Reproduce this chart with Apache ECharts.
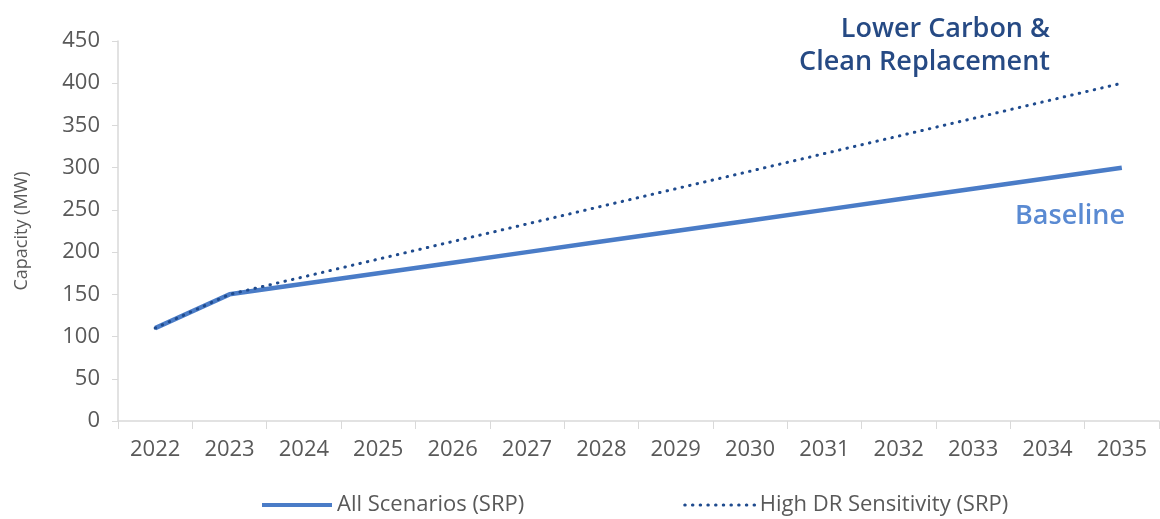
<!DOCTYPE html>
<html><head><meta charset="utf-8">
<script src="https://cdn.jsdelivr.net/npm/echarts@6/dist/echarts.min.js"></script>
<style>html,body{margin:0;padding:0;background:#fff}#c{width:1160px;height:519px}</style>
</head><body><div id="c"></div>
<script>
const years = ['2022','2023','2024','2025','2026','2027','2028','2029','2030','2031','2032','2033','2034','2035'];
const allScenarios = [110,150,162.5,175,187.5,200,212.5,225,237.5,250,262.5,275,287.5,300];
const highDR = [110,150,170.8,191.7,212.5,233.3,254.2,275,295.8,316.7,337.5,358.3,379.2,400];
const yTicks = {min:0,max:450,interval:50};
const FONT = 'Open Sans';
const SOLID = '#4a7cc7', DOT = '#1f4b8e';
const chart = echarts.init(document.getElementById('c'));
chart.setOption({
  animation:false,
  textStyle:{fontFamily:FONT},
  grid:{left:118,right:1,top:41,bottom:98,outerBoundsMode:'none',containLabel:false},
  legend:{
    top:494,left:260,padding:0,itemGap:159,itemWidth:70,itemHeight:14,
    itemStyle:{opacity:0},
    textStyle:{fontSize:22,color:'#595959',fontFamily:FONT},
    data:[
      {name:'All Scenarios (SRP)',lineStyle:{width:4,color:SOLID}},
      {name:'High DR Sensitivity (SRP)',lineStyle:{width:3,color:DOT}}
    ]
  },
  xAxis:{type:'category',data:years,boundaryGap:true,
    axisLine:{lineStyle:{color:'#d9d9d9',width:1.5}},
    axisTick:{show:true,length:8,lineStyle:{color:'#d9d9d9'}},
    axisLabel:{fontSize:22,color:'#595959',margin:18}
  },
  yAxis:{type:'value',min:yTicks.min,max:yTicks.max,interval:yTicks.interval,
    name:'Capacity (MW)',nameLocation:'middle',nameGap:87,
    nameTextStyle:{fontSize:18,color:'#595959'},
    axisLine:{show:true,lineStyle:{color:'#d9d9d9',width:1.5}},
    axisTick:{show:true,length:6,lineStyle:{color:'#d9d9d9'}},
    splitLine:{show:false},
    axisLabel:{fontSize:22,color:'#595959',margin:18}
  },
  series:[
    {name:'High DR Sensitivity (SRP)',type:'line',data:highDR,symbol:'none',z:3,
      lineStyle:{color:DOT,width:3,cap:'round',type:[0.5,7.2]},itemStyle:{color:DOT}},
    {name:'All Scenarios (SRP)',type:'line',data:allScenarios,symbol:'none',z:2,
      lineStyle:{color:SOLID,width:4.5},itemStyle:{color:SOLID}}
  ],
  graphic:[
    {type:'text',right:110,top:13,style:{text:'Lower Carbon &',fill:'#264a84',font:'600 27px '+FONT,lineHeight:33}},
    {type:'text',right:110,top:46,style:{text:'Clean Replacement',fill:'#264a84',font:'600 27px '+FONT,lineHeight:33}},
    {type:'text',right:35,top:200,style:{text:'Baseline',fill:'#5a8ad2',font:'600 27px '+FONT,lineHeight:33}}
  ]
});
</script></body></html>
